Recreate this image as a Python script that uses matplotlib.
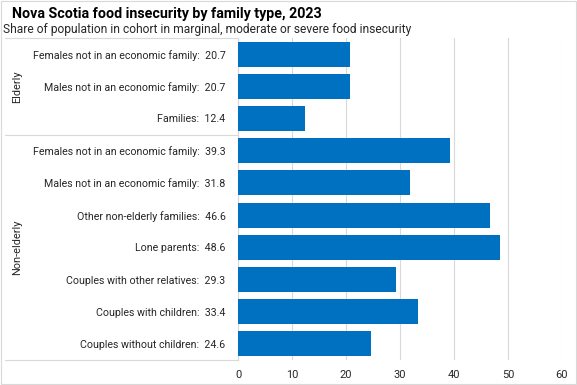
import matplotlib
matplotlib.use("Agg")
import matplotlib.pyplot as plt
import numpy as np

plt.rcParams["font.family"] = ["Roboto", "DejaVu Sans"]

categories = ["Females not in an economic family", "Males not in an economic family", "Families",
              "Females not in an economic family", "Males not in an economic family",
              "Other non-elderly families", "Lone parents", "Couples with other relatives",
              "Couples with children", "Couples without children"]
values = [20.7, 20.7, 12.4, 39.3, 31.8, 46.6, 48.6, 29.3, 33.4, 24.6]
groups = ["Elderly", "Non-elderly"]
group_sizes = [3, 7]

BLUE = "#0070C0"
GRID = "#d9d9d9"
TXT = "#262626"

fig = plt.figure(figsize=(5.77, 3.85), dpi=100)
ax = fig.add_axes([238/577, 1-360/385, (562-238)/577, (360-38)/385])

y = np.arange(len(values))
ax.barh(y, values, height=0.78, color=BLUE, zorder=3)
ax.set_ylim(len(values)-0.5, -0.5)
ax.set_xlim(0, 60)
ax.set_xticks(range(0, 61, 10))
ax.xaxis.grid(True, color=GRID, lw=0.8, zorder=0)
ax.set_yticks(y)
ax.set_yticklabels([f"{c}:  {v}" for c, v in zip(categories, values)], fontsize=7.7, color=TXT)
ax.tick_params(axis="x", labelsize=7.9, colors=TXT, length=0, pad=7)
ax.tick_params(axis="y", length=0, pad=9)
for s in ax.spines.values():
    s.set_visible(False)

# group separators and labels
tr = ax.get_yaxis_transform()
x0 = -(238-5)/(562-238)
bounds = [-0.5]
for n in group_sizes:
    bounds.append(bounds[-1] + n)
for b in bounds:
    ax.plot([x0, 0], [b, b], transform=tr, color=GRID, lw=0.8, clip_on=False)
ax.plot([0, 0], [-0.5, len(values)-0.5], transform=tr, color=GRID, lw=0.8, clip_on=False)
for g, lo, hi in zip(groups, bounds[:-1], bounds[1:]):
    ax.text(-(238-17)/(562-238), (lo+hi)/2, g, transform=tr, rotation=90,
            ha="center", va="center", fontsize=7.9, color=TXT)

fig.text(12/577, 1-14/385, "Nova Scotia food insecurity by family type, 2023",
         fontsize=10.3, fontweight="bold", color="#000000", va="center")
fig.text(3/577, 1-30/385, "Share of population in cohort in marginal, moderate or severe food insecurity",
         fontsize=8.65, color=TXT, va="center")

# chart border
fig.patches.append(plt.Rectangle((0.001, 0.002), 0.997, 0.996, transform=fig.transFigure,
                                 fill=False, edgecolor=GRID, lw=0.8))

fig.savefig("out.png", dpi=100)
